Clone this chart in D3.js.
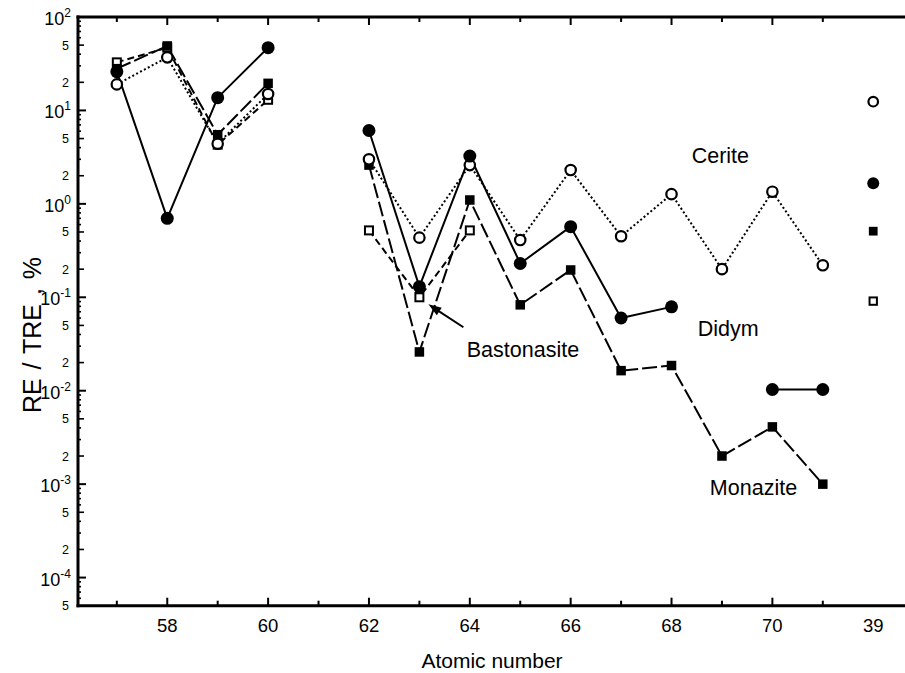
<!DOCTYPE html>
<html><head><meta charset="utf-8">
<script src="https://cdn.jsdelivr.net/npm/d3@7"></script>
<style>
body{margin:0;background:#fff}
svg{display:block}
text{font-family:"Liberation Sans",Arial,Helvetica,sans-serif;fill:#000}
</style>
</head><body>
<svg id="chart" width="905" height="673"></svg>
<script>
// ---- data ----
const atomicNumbers = [57,58,59,60,61,62,63,64,65,66,67,68,69,70,71];
const cerite      = [19, 37, 4.4, 15, null, 3.0, 0.435, 2.6, 0.41, 2.3, 0.45, 1.27, 0.2, 1.35, 0.22];
const didym       = [26, 0.7, 13.7, 47, null, 6.1, 0.13, 3.25, 0.23, 0.57, 0.06, 0.079, null, 0.0103, 0.0103];
const monazite    = [28, 49, 5.5, 19.5, null, 2.6, 0.026, 1.1, 0.083, 0.196, 0.0164, 0.0186, 0.002, 0.0041, 0.001];
const bastonasite = [32.7, 47, 4.3, 13, null, 0.52, 0.10, 0.52, null, null, null, null, null, null, null];
const seriesNames = ["Cerite", "Didym", "Monazite", "Bastonasite"];
const yttriumLabel = "39";
const yttriumValues = [12.4, 1.66, 0.51, 0.091]; // Cerite, Didym, Monazite, Bastonasite
const xMajorTicks = [58,60,62,64,66,68,70];
const xMinorTicks = [57,59,61,63,65,67,69,71];
const yDecades = [-4,-3,-2,-1,0,1,2];

// ---- layout ----
const plotLeft = 78, plotTop = 17, plotBottom = 605.7, plotRight = 905;
const svg = d3.select("#chart");

const x = d3.scaleLinear().domain([56.23, 72.63]).range([plotLeft, plotRight]);
const y = d3.scaleLog().domain([5e-5, 100]).range([plotBottom, plotTop]);
const yttriumPos = 72;

const styles = {
  Cerite:      {data: cerite,      marker: "openCircle",  dash: "2,2.4", width: 2},
  Didym:       {data: didym,       marker: "fillCircle",  dash: null,    width: 2},
  Monazite:    {data: monazite,    marker: "fillSquare",  dash: "15,4",  width: 2},
  Bastonasite: {data: bastonasite, marker: "openSquare",  dash: "7,4",   width: 2}
};

// ---- axes ----
const g = svg.append("g");
g.append("line").attr("x1", plotLeft).attr("x2", plotLeft).attr("y1", plotTop - 1.5).attr("y2", plotBottom + 1.5)
  .attr("stroke", "#000").attr("stroke-width", 3);
g.append("line").attr("x1", plotLeft - 1.5).attr("x2", plotRight).attr("y1", plotTop).attr("y2", plotTop)
  .attr("stroke", "#000").attr("stroke-width", 3);
g.append("line").attr("x1", plotLeft - 1.5).attr("x2", plotRight).attr("y1", plotBottom).attr("y2", plotBottom)
  .attr("stroke", "#000").attr("stroke-width", 3);

xMajorTicks.forEach(v => {
  g.append("line").attr("x1", x(v)).attr("x2", x(v)).attr("y1", plotBottom).attr("y2", plotBottom - 8)
    .attr("stroke", "#000").attr("stroke-width", 2);
  g.append("line").attr("x1", x(v)).attr("x2", x(v)).attr("y1", plotTop).attr("y2", plotTop + 8)
    .attr("stroke", "#000").attr("stroke-width", 2);
  g.append("text").attr("x", x(v)).attr("y", 632).attr("text-anchor", "middle")
    .attr("font-size", 18.5).text(v);
});
xMinorTicks.forEach(v => {
  g.append("line").attr("x1", x(v)).attr("x2", x(v)).attr("y1", plotBottom).attr("y2", plotBottom - 5)
    .attr("stroke", "#000").attr("stroke-width", 2);
  g.append("line").attr("x1", x(v)).attr("x2", x(v)).attr("y1", plotTop).attr("y2", plotTop + 5)
    .attr("stroke", "#000").attr("stroke-width", 2);
});
g.append("text").attr("x", x(yttriumPos)).attr("y", 632).attr("text-anchor", "middle")
  .attr("font-size", 18.5).text(yttriumLabel);

yDecades.forEach(n => {
  const base = Math.pow(10, n);
  g.append("line").attr("x1", plotLeft).attr("x2", plotLeft + 8).attr("y1", y(base)).attr("y2", y(base))
    .attr("stroke", "#000").attr("stroke-width", 2);
  const t = g.append("text").attr("x", 71).attr("y", y(base) + 8).attr("text-anchor", "end")
    .attr("font-size", 18);
  t.append("tspan").text("10");
  t.append("tspan").attr("dy", -8).attr("font-size", 12).text(String(n));
});
for (let n = -5; n <= 1; n++) {
  for (let m = 2; m <= 9; m++) {
    const v = m * Math.pow(10, n);
    if (v < 4.99e-5 || v > 100) continue;
    const isLab = (m === 2 || m === 5);
    const len = isLab ? 6 : 3;
    if (v > 5.01e-5) {
      g.append("line").attr("x1", plotLeft).attr("x2", plotLeft + len).attr("y1", y(v)).attr("y2", y(v))
        .attr("stroke", "#000").attr("stroke-width", 1.6);
    }
    if (isLab) {
      g.append("text").attr("x", 69).attr("y", y(v) + 4.5).attr("text-anchor", "end")
        .attr("font-size", 12.5).text(m);
    }
  }
}

g.append("text").attr("transform", `translate(41,335) rotate(-90)`).attr("text-anchor", "middle")
  .attr("font-size", 25).attr("word-spacing", 2).text("RE / TRE , %");
g.append("text").attr("x", 492).attr("y", 668).attr("text-anchor", "middle")
  .attr("font-size", 21).text("Atomic number");

// ---- series ----
const line = d3.line().defined(d => d.v != null).x(d => x(d.z)).y(d => y(d.v));
const drawOrder = ["Bastonasite", "Monazite", "Cerite", "Didym"];
drawOrder.forEach(name => {
  const s = styles[name];
  const pts = atomicNumbers.map((z, i) => ({z, v: s.data[i]}));
  svg.append("path").datum(pts).attr("d", line).attr("fill", "none")
    .attr("stroke", "#000").attr("stroke-width", s.width)
    .attr("stroke-dasharray", s.dash).attr("stroke-linejoin", "round");
});

function drawMarker(type, cx, cy, scale) {
  const k = scale || 1;
  if (type === "openCircle") {
    svg.append("circle").attr("cx", cx).attr("cy", cy).attr("r", 5.2 * k)
      .attr("fill", "#fff").attr("stroke", "#000").attr("stroke-width", 2.2);
  } else if (type === "fillCircle") {
    svg.append("circle").attr("cx", cx).attr("cy", cy).attr("r", 6.5 * k).attr("fill", "#000");
  } else if (type === "fillSquare") {
    const s = 9.5 * k;
    svg.append("rect").attr("x", cx - s / 2).attr("y", cy - s / 2).attr("width", s).attr("height", s)
      .attr("fill", "#000");
  } else if (type === "openSquare") {
    const s = 8 * k;
    svg.append("rect").attr("x", cx - s / 2).attr("y", cy - s / 2).attr("width", s).attr("height", s)
      .attr("fill", "#fff").attr("stroke", "#000").attr("stroke-width", 2);
  }
}
drawOrder.forEach(name => {
  const s = styles[name];
  atomicNumbers.forEach((z, i) => {
    if (s.data[i] != null) drawMarker(s.marker, x(z), y(s.data[i]));
  });
});
seriesNames.forEach((name, i) => {
  drawMarker(styles[name].marker, x(yttriumPos), y(yttriumValues[i]), 0.92);
});

// ---- annotations (anchored in data coordinates) ----
const ann = svg.append("g");
ann.append("text").attr("x", x(68.4)).attr("y", y(2.76)).attr("font-size", 21.5).text("Cerite");
ann.append("text").attr("x", x(68.52)).attr("y", y(0.0385)).attr("font-size", 21.5).text("Didym");
ann.append("text").attr("x", x(68.76)).attr("y", y(0.00077)).attr("font-size", 21.5).text("Monazite");
ann.append("text").attr("x", x(63.94)).attr("y", y(0.023)).attr("font-size", 21.5).text("Bastonasite");

const tipX = x(63) + 9, tipY = y(0.10) + 7;
const tailX = x(63) + 44, tailY = y(0.10) + 30;
ann.append("line").attr("x1", tailX).attr("y1", tailY).attr("x2", tipX + 5).attr("y2", tipY + 3.3)
  .attr("stroke", "#000").attr("stroke-width", 2);
const ang = Math.atan2(tipY - tailY, tipX - tailX);
const hl = 13, hw = 4.5;
const bx = tipX - hl * Math.cos(ang), by = tipY - hl * Math.sin(ang);
ann.append("path").attr("d",
  `M${tipX},${tipY} L${bx + hw * Math.sin(ang)},${by - hw * Math.cos(ang)} L${bx - hw * Math.sin(ang)},${by + hw * Math.cos(ang)} Z`)
  .attr("fill", "#000");
</script>
</body></html>
